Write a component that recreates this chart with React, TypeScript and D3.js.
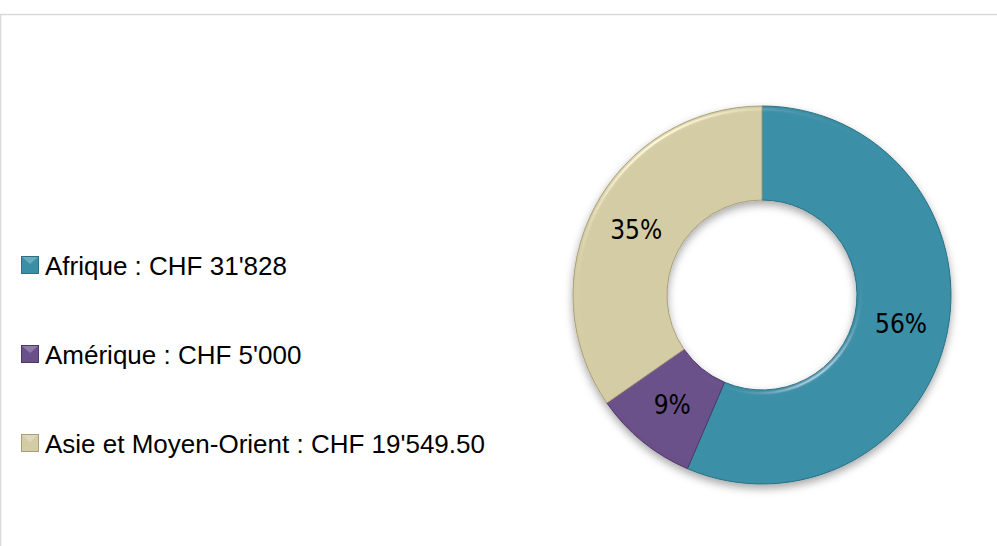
import React from "react"
import * as d3 from "d3"

// données du graphique
const regions = ["Afrique", "Amérique", "Asie et Moyen-Orient"]
const montants = [31828, 5000, 19549.5]
const legendLabels = ["Afrique : CHF 31'828", "Amérique : CHF 5'000", "Asie et Moyen-Orient : CHF 19'549.50"]
const couleurs = ["#3a8fa7", "#6a5089", "#d4cca4"]
const bordures = ["#2a6f82", "#4b3866", "#a89f78"]

const W = 997
const H = 546

export default function App() {
  const cx = 762
  const cy = 295
  const outer = 189
  const inner = 95

  const pie = d3
    .pie<number>()
    .sort(null)
    .value((d) => d)
  const arcs = pie(montants)
  const total = d3.sum(montants)

  const arc = d3.arc<d3.PieArcDatum<number>>().innerRadius(inner).outerRadius(outer)
  const labelArc = d3
    .arc<d3.PieArcDatum<number>>()
    .innerRadius((inner + outer) / 2)
    .outerRadius((inner + outer) / 2)

  const pct = d3.format(".0%")

  // légende à gauche
  const legendY = d3.scalePoint<string>().domain(regions).range([275, 453])

  return (
    <svg
      width={W}
      height={H}
      style={{ position: "fixed", left: 0, top: 0, background: "#fff" }}
    >
      <defs>
        <filter id="bevel" x="-10%" y="-10%" width="120%" height="125%">
          <feGaussianBlur in="SourceAlpha" stdDeviation="2.5" result="blur" />
          <feSpecularLighting
            in="blur"
            surfaceScale="4"
            specularConstant="0.8"
            specularExponent="35"
            lightingColor="#ffffff"
            result="spec"
          >
            <feDistantLight azimuth="235" elevation="30" />
          </feSpecularLighting>
          <feComposite in="spec" in2="SourceAlpha" operator="in" result="specIn" />
          <feComposite
            in="SourceGraphic"
            in2="specIn"
            operator="arithmetic"
            k1="0"
            k2="1"
            k3="0.45"
            k4="0"
            result="lit"
          />
          <feDropShadow dx="0" dy="4" stdDeviation="4" floodColor="#000" floodOpacity="0.35" />
        </filter>
      </defs>

      {/* cadre */}
      <line x1={0} x2={W} y1={14.5} y2={14.5} stroke="#d9d9d9" strokeWidth={1.5} />
      <line x1={0.5} x2={0.5} y1={14} y2={H} stroke="#d9d9d9" strokeWidth={1.5} />

      <g transform={`translate(${cx},${cy})`}>
        <g filter="url(#bevel)">
          {arcs.map((a, i) => (
            <path
              key={regions[i]}
              d={arc(a) || ""}
              fill={couleurs[i]}
              stroke={bordures[i]}
              strokeWidth={1}
            />
          ))}
        </g>
        {arcs.map((a, i) => {
          const [lx, ly] = labelArc.centroid(a)
          return (
            <text
              key={"l" + i}
              x={lx}
              y={ly}
              dy="0.36em"
              textAnchor="middle"
              fontFamily="'DejaVu Sans', sans-serif"
              fontStretch="condensed"
              fontSize={26}
              fill="#000"
            >
              {pct(a.value / total)}
            </text>
          )
        })}
      </g>

      <g>
        {regions.map((r, i) => {
          const y = legendY(r) as number
          return (
            <g key={r}>
              <rect
                x={21.5}
                y={y - 18.5}
                width={17}
                height={17}
                fill={couleurs[i]}
                stroke={bordures[i]}
                strokeWidth={1}
              />
              <path
                d={`M${22},${y - 18} L${38},${y - 18} L${30},${y - 11} Z`}
                fill="#fff"
                opacity={0.25}
              />
              <text
                x={45}
                y={y}
                fontFamily="'Liberation Sans', Arial, sans-serif"
                fontSize={26}
                fill="#000"
              >
                {legendLabels[i]}
              </text>
            </g>
          )
        })}
      </g>
    </svg>
  )
}
